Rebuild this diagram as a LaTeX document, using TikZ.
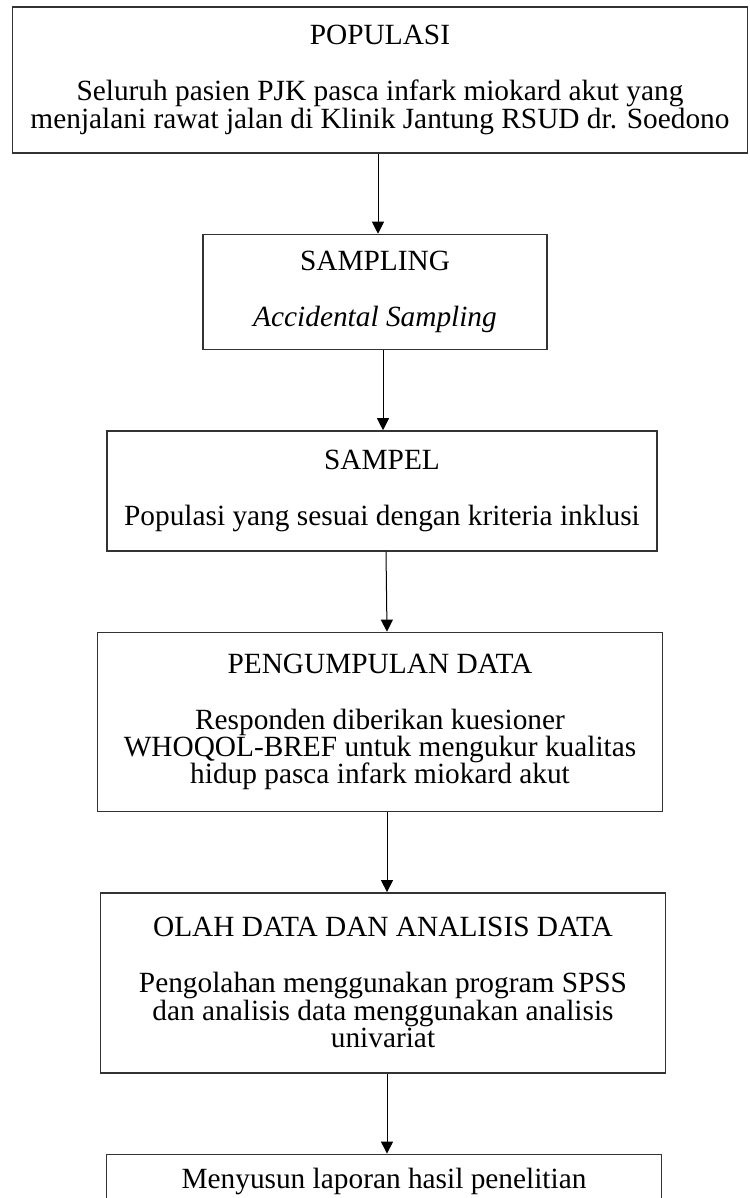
\documentclass[tikz,border=0pt]{standalone}
\usepackage{fontspec}
\setmainfont{Liberation Serif}
\usetikzlibrary{chains,arrows.meta,positioning}
\tikzset{box/.style={draw=black!80, line width=1.1pt, rectangle, align=center, inner sep=0pt, text=black, font=\fontsize{22}{20.6}\selectfont}, >={Triangle[length=9pt,width=9pt]}}

\begin{document}
\begin{tikzpicture}[x=0.75pt, y=-0.75pt, start chain=going below, node distance=60pt]
    \useasboundingbox (0,0) rectangle (749,1198);
    \node[box,on chain,minimum width=735*0.75pt,minimum height=146*0.75pt] (N1) at (380,80) {POPULASI\\[21.4pt] Seluruh pasien PJK pasca infark miokard akut yang\\ menjalani rawat jalan di Klinik Jantung RSUD dr. Soedono};
    \node[box,on chain,xshift=-3.75pt,minimum width=344*0.75pt,minimum height=115*0.75pt] (N2) {SAMPLING\\[21.4pt] \textit{Accidental Sampling}};
    \node[box,on chain,xshift=5.25pt,minimum width=550*0.75pt,minimum height=120*0.75pt] (N3) {SAMPEL\\[21.4pt] Populasi yang sesuai dengan kriteria inklusi};
    \node[box,on chain,xshift=-1.5pt,minimum width=565*0.75pt,minimum height=179*0.75pt] (N4) {PENGUMPULAN DATA\\[21.4pt] Responden diberikan kuesioner\\ WHOQOL-BREF untuk mengukur kualitas\\ hidup pasca infark miokard akut};
    \node[box,on chain,xshift=2.25pt,minimum width=565*0.75pt,minimum height=180*0.75pt] (N5) {OLAH DATA DAN ANALISIS DATA\\[21.4pt] Pengolahan menggunakan program SPSS\\ dan analisis data menggunakan analisis\\ univariat};
    \node[box,on chain,xshift=0.75pt,minimum width=555*0.75pt,minimum height=54*0.75pt] (N6) {Menyusun laporan hasil penelitian};
    \draw[->, line width=0.75pt] ([xshift=-1.5pt]N1.south) -- ([xshift=2.25pt]N2.north);
    \draw[->, line width=0.75pt] ([xshift=6pt]N2.south) -- ([xshift=0.75pt]N3.north);
    \draw[->, line width=0.75pt] ([xshift=3pt]N3.south) -- ([xshift=5.25pt]N4.north);
    \draw[->, line width=0.75pt] ([xshift=5.25pt]N4.south) -- ([xshift=3pt]N5.north);
    \draw[->, line width=0.75pt] ([xshift=3pt]N5.south) -- ([xshift=2.25pt]N6.north);
\end{tikzpicture}
\end{document}
